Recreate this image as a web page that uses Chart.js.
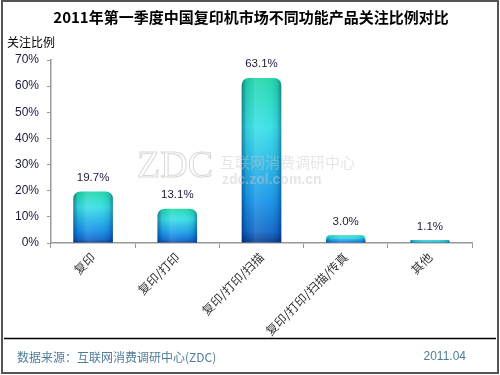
<!DOCTYPE html>
<html>
<head>
<meta charset="utf-8">
<script src="https://cdn.jsdelivr.net/npm/chart.js@4.4.0/dist/chart.umd.min.js"></script>
<style>
  body { margin: 0; background: #fff; }
  #wrap { position: relative; width: 500px; height: 375px; }
</style>
</head>
<body>
<div id="wrap"><canvas id="chart" width="500" height="375"></canvas></div>
<script>
    const chartTitle = "2011年第一季度中国复印机市场不同功能产品关注比例对比";
    const axisTitle = "关注比例";
    const sourceText = "数据来源：互联网消费调研中心(ZDC)";
    const dateText = "2011.04";
    const categories = ["复印", "复印/打印", "复印/打印/扫描", "复印/打印/扫描/传真", "其他"];
    const shares = [19.7, 13.1, 63.1, 3.0, 1.1];
    const yTicks = [0, 10, 20, 30, 40, 50, 60, 70];

    // vertical gradient per bar, computed from the y scale
    function barFill(ctx) {
        const chart = ctx.chart;
        if (!chart.chartArea) return "#20b0e0";
        const y = chart.scales.y;
        const top = y.getPixelForValue(ctx.raw);
        const bottom = y.getPixelForValue(0);
        const g = chart.ctx.createLinearGradient(0, top, 0, bottom);
        g.addColorStop(0, "#1fd6a8");
        g.addColorStop(0.3, "#36dfe6");
        g.addColorStop(0.75, "#1692e8");
        g.addColorStop(0.93, "#1068c8");
        g.addColorStop(1, "#0a3c8c");
        return g;
    }

    // page frame, titles, footer, watermark, shading and value labels
    const decorPlugin = {
        id: "decor",
        beforeDraw(chart) {
            const c = chart.ctx;
            c.save();
            c.fillStyle = "#fff";
            c.fillRect(0, 0, 500, 375);
            c.textBaseline = "middle";
            c.fillStyle = "#000";
            c.font = "bold 15px 'Noto Sans CJK SC', sans-serif";
            c.textAlign = "center";
            c.fillText(chartTitle, 251, 17);
            c.font = "12px 'Noto Sans CJK SC', sans-serif";
            c.textAlign = "left";
            c.fillText(axisTitle, 7, 42);
            c.fillStyle = "#4f7d99";
            c.fillText(sourceText, 17, 357);
            c.font = "12px 'Liberation Sans', Arial, sans-serif";
            c.textAlign = "right";
            c.fillText(dateText, 466, 357);
            c.strokeStyle = "#000";
            c.lineWidth = 1.5;
            c.beginPath();
            c.moveTo(4, 338.5);
            c.lineTo(496, 338.5);
            c.stroke();
            c.strokeStyle = "#555";
            c.lineWidth = 2;
            c.strokeRect(2, 1, 496, 372);
            c.restore();
        },
        afterDatasetsDraw(chart) {
            const c = chart.ctx;
            const meta = chart.getDatasetMeta(0);
            c.save();
            meta.data.forEach((bar, i) => {
                const left = bar.x - bar.width / 2;
                const right = bar.x + bar.width / 2;
                const h = bar.base - bar.y;
                const r = Math.min(7, h, bar.width / 2);
                const g = c.createLinearGradient(left, 0, right, 0);
                g.addColorStop(0, "rgba(0,20,70,0.45)");
                g.addColorStop(0.12, "rgba(0,20,70,0.08)");
                g.addColorStop(0.35, "rgba(255,255,255,0.12)");
                g.addColorStop(0.7, "rgba(255,255,255,0.05)");
                g.addColorStop(0.9, "rgba(0,20,70,0.1)");
                g.addColorStop(1, "rgba(0,20,70,0.4)");
                c.fillStyle = g;
                c.beginPath();
                c.moveTo(left, bar.base);
                c.lineTo(left, bar.y + r);
                c.arcTo(left, bar.y, left + r, bar.y, r);
                c.lineTo(right - r, bar.y);
                c.arcTo(right, bar.y, right, bar.y + r, r);
                c.lineTo(right, bar.base);
                c.closePath();
                c.fill();

                c.fillStyle = "#1a1a3a";
                c.font = "11.5px 'Liberation Sans', Arial, sans-serif";
                c.textAlign = "center";
                c.textBaseline = "bottom";
                c.fillText(shares[i].toFixed(1) + "%", bar.x, bar.y - 8);
            });

            // faint watermark
            c.fillStyle = "rgba(200,200,200,0.45)";
            c.strokeStyle = "rgba(190,190,190,0.6)";
            c.lineWidth = 1;
            c.textBaseline = "middle";
            c.textAlign = "left";
            c.font = "38px 'Liberation Serif', serif";
            c.strokeText("ZDC", 137, 167);
            c.font = "15px 'Noto Sans CJK SC', sans-serif";
            c.fillText("互联网消费调研中心", 220, 162);
            c.font = "bold 14px 'Liberation Sans', Arial, sans-serif";
            c.fillText("zdc.zol.com.cn", 222, 180);
            c.restore();
        }
    };

    new Chart(document.getElementById("chart"), {
        type: "bar",
        data: {
            labels: categories,
            datasets: [{
                data: shares,
                backgroundColor: barFill,
                borderWidth: 0,
                borderRadius: { topLeft: 7, topRight: 7, bottomLeft: 0, bottomRight: 0 },
                borderSkipped: false,
                barPercentage: 0.47,
                categoryPercentage: 1
            }]
        },
        options: {
            responsive: false,
            animation: false,
            layout: { padding: { left: 0, right: 28, top: 60, bottom: 32 } },
            plugins: {
                legend: { display: false },
                title: { display: false },
                tooltip: { enabled: false }
            },
            scales: {
                x: {
                    afterFit: (s) => { s.height = 100; },
                    grid: { drawOnChartArea: false, drawTicks: true, tickLength: 5, color: "#999", offset: true },
                    border: { display: true, color: "#999", width: 1.5 },
                    ticks: {
                        minRotation: 45,
                        maxRotation: 45,
                        autoSkip: false,
                        padding: 2,
                        color: "#333",
                        font: { family: "'Noto Sans CJK SC', sans-serif", size: 12 }
                    }
                },
                y: {
                    min: 0,
                    max: 70,
                    afterFit: (s) => { s.width = 51; },
                    afterBuildTicks: (s) => { s.ticks = yTicks.map((v) => ({ value: v })); },
                    grid: { drawOnChartArea: false, drawTicks: true, tickLength: 4, color: "#999" },
                    border: { display: true, color: "#999", width: 1.5 },
                    ticks: {
                        padding: 8,
                        color: "#1a1a3a",
                        font: { family: "'Liberation Sans', Arial, sans-serif", size: 12 },
                        callback: (v) => v + "%"
                    }
                }
            }
        },
        plugins: [decorPlugin]
    });
</script>
</body>
</html>
